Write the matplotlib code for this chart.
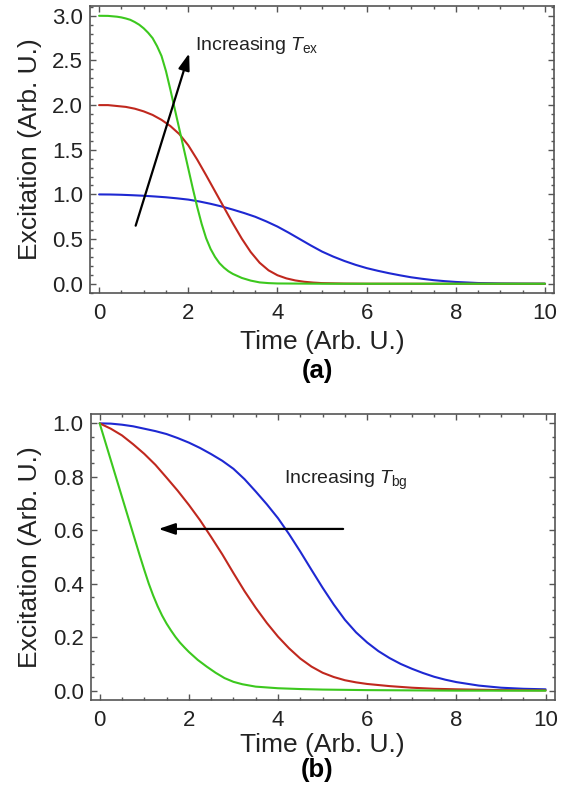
import matplotlib
matplotlib.use("Agg")
import matplotlib.pyplot as plt
from matplotlib.ticker import MultipleLocator


# panel (a): varying T_ex
TIME_A_GREEN = [0.0, 0.2, 0.4, 0.5, 0.6, 0.7, 0.8, 0.9, 1.0, 1.1, 1.2, 1.3, 1.4,
                1.5, 1.6, 1.7, 1.8, 1.9, 2.0, 2.1, 2.2, 2.3, 2.4, 2.5, 2.6, 2.7,
                2.8, 2.9, 3.0, 3.2, 3.4, 3.6, 3.8, 4.0, 5.0, 6.0, 8.0, 10.0]
EXC_A_GREEN = [3.000, 2.999, 2.99, 2.982, 2.97, 2.955, 2.93, 2.90, 2.86, 2.81,
               2.75, 2.66, 2.55, 2.38, 2.17, 1.95, 1.73, 1.51, 1.29, 1.07, 0.86,
               0.67, 0.51, 0.39, 0.30, 0.23, 0.18, 0.14, 0.11, 0.065, 0.035,
               0.015, 0.007, 0.003, 0.0, 0.0, 0.0, 0.0]

TIME_A_RED = [0.0, 0.2, 0.4, 0.6, 0.8, 1.0, 1.2, 1.4, 1.6, 1.8, 2.0, 2.2, 2.4,
              2.6, 2.8, 3.0, 3.2, 3.4, 3.6, 3.8, 4.0, 4.2, 4.4, 4.6, 4.8, 5.0,
              5.5, 6.0, 7.0, 8.0, 9.0, 10.0]
EXC_A_RED = [2.00, 2.00, 1.99, 1.98, 1.96, 1.93, 1.89, 1.835, 1.765, 1.675,
             1.55, 1.39, 1.215, 1.035, 0.855, 0.675, 0.505, 0.355, 0.235, 0.15,
             0.095, 0.06, 0.037, 0.022, 0.013, 0.007, 0.002, 0.0005, 0.0, 0.0,
             0.0, 0.0]

TIME_A_BLUE = [0.0, 0.25, 0.5, 0.75, 1.0, 1.25, 1.5, 1.75, 2.0, 2.25, 2.5, 2.75,
               3.0, 3.25, 3.5, 3.75, 4.0, 4.25, 4.5, 4.75, 5.0, 5.25, 5.5, 5.75,
               6.0, 6.25, 6.5, 6.75, 7.0, 7.25, 7.5, 7.75, 8.0, 8.5, 9.0, 9.5,
               10.0]
EXC_A_BLUE = [1.000, 0.999, 0.996, 0.991, 0.985, 0.977, 0.968, 0.956, 0.942,
              0.921, 0.895, 0.865, 0.830, 0.792, 0.750, 0.698, 0.640, 0.572,
              0.500, 0.428, 0.360, 0.304, 0.255, 0.212, 0.175, 0.145, 0.118,
              0.094, 0.072, 0.055, 0.040, 0.029, 0.020, 0.008, 0.003, 0.001,
              0.0]

# panel (b): varying T_bg
TIME_B_GREEN = [0.0, 0.2, 0.4, 0.6, 0.8, 0.9, 1.0, 1.1, 1.2, 1.3, 1.4, 1.5, 1.6,
                1.7, 1.8, 1.9, 2.0, 2.2, 2.4, 2.6, 2.8, 3.0, 3.2, 3.5, 4.0, 4.5,
                5.0, 6.0, 7.0, 8.0, 10.0]
EXC_B_GREEN = [1.00, 0.89, 0.78, 0.67, 0.56, 0.505, 0.452, 0.401, 0.356, 0.316,
               0.281, 0.251, 0.225, 0.201, 0.180, 0.162, 0.145, 0.115, 0.090,
               0.067, 0.047, 0.033, 0.024, 0.015, 0.009, 0.006, 0.004, 0.002,
               0.001, 0.0, 0.0]

TIME_B_RED = [0.0, 0.25, 0.5, 0.75, 1.0, 1.25, 1.5, 1.75, 2.0, 2.25, 2.5, 2.75,
              3.0, 3.25, 3.5, 3.75, 4.0, 4.25, 4.5, 4.75, 5.0, 5.25, 5.5, 5.75,
              6.0, 6.5, 7.0, 7.5, 8.0, 9.0, 10.0]
EXC_B_RED = [1.000, 0.980, 0.955, 0.922, 0.886, 0.845, 0.797, 0.748, 0.695,
             0.638, 0.575, 0.510, 0.440, 0.372, 0.310, 0.253, 0.202, 0.158,
             0.120, 0.090, 0.067, 0.051, 0.039, 0.031, 0.025, 0.017, 0.011,
             0.007, 0.005, 0.002, 0.001]

TIME_B_BLUE = [0.0, 0.25, 0.5, 0.75, 1.0, 1.25, 1.5, 1.75, 2.0, 2.25, 2.5, 2.75,
               3.0, 3.25, 3.5, 3.75, 4.0, 4.25, 4.5, 4.75, 5.0, 5.25, 5.5, 5.75,
               6.0, 6.25, 6.5, 6.75, 7.0, 7.25, 7.5, 7.75, 8.0, 8.5, 9.0, 9.5,
               10.0]
EXC_B_BLUE = [1.000, 0.999, 0.995, 0.989, 0.980, 0.971, 0.960, 0.945, 0.928,
              0.908, 0.885, 0.860, 0.830, 0.791, 0.745, 0.697, 0.645, 0.585,
              0.520, 0.452, 0.385, 0.322, 0.265, 0.218, 0.180, 0.148, 0.122,
              0.100, 0.082, 0.066, 0.052, 0.041, 0.032, 0.019, 0.011, 0.007,
              0.005]

GREEN = "#3cc81e"
RED = "#c0281e"
BLUE = "#1e28d2"
FRAME = "#555555"


def style_axes(ax, ylim, y_major, y_minor):
    ax.set_xlim(-0.204, 10.204)
    ax.set_ylim(*ylim)

    ax.xaxis.set_major_locator(MultipleLocator(2))
    ax.xaxis.set_minor_locator(MultipleLocator(0.5))
    ax.yaxis.set_major_locator(MultipleLocator(y_major))
    ax.yaxis.set_minor_locator(MultipleLocator(y_minor))

    ax.tick_params(which="both", direction="in", top=True, right=True,
                   color=FRAME, width=1.0, labelsize=16, labelcolor="#222222")
    ax.tick_params(which="major", length=4)
    ax.tick_params(which="minor", length=2)
    ax.tick_params(axis="x", pad=7)
    ax.tick_params(axis="y", pad=5)

    for spine in ax.spines.values():
        spine.set_color(FRAME)
        spine.set_linewidth(1.2)

    ax.set_xlabel("Time (Arb. U.)", fontsize=19, color="#222222")
    ax.set_ylabel("Excitation (Arb. U.)", fontsize=19, color="#222222")
    ax.yaxis.label.set_va("center")
    ax.xaxis.label.set_va("center")
    ax.yaxis.set_label_coords(-0.13, 0.5)


def main():
    plt.rcParams["font.family"] = ["Liberation Sans", "DejaVu Sans"]
    plt.rcParams["mathtext.fontset"] = "custom"
    plt.rcParams["mathtext.rm"] = "Liberation Sans"
    plt.rcParams["mathtext.it"] = "Liberation Sans:italic"

    fig = plt.figure(figsize=(5.66, 7.98), dpi=100)

    ax_a = fig.add_axes([0.159, 0.6328, 0.820, 0.3596])
    ax_b = fig.add_axes([0.160, 0.1228, 0.820, 0.3584])

    line_kw = dict(linewidth=1.5, solid_capstyle="round", solid_joinstyle="round")
    arrow_kw = dict(arrowstyle="-|>,head_length=0.5,head_width=0.17",
                    color="black", lw=1.6, mutation_scale=20,
                    shrinkA=0, shrinkB=0)

    # (a)
    ax_a.plot(TIME_A_BLUE, EXC_A_BLUE, color=BLUE, **line_kw)
    ax_a.plot(TIME_A_RED, EXC_A_RED, color=RED, **line_kw)
    ax_a.plot(TIME_A_GREEN, EXC_A_GREEN, color=GREEN, **line_kw)
    ax_a.annotate("", xy=(2.02, 2.58), xytext=(0.82, 0.65), arrowprops=arrow_kw)
    ax_a.text(2.15, 2.67, r"Increasing $T_{\mathrm{ex}}$", fontsize=14,
              color="#222222", ha="left", va="center")
    style_axes(ax_a, (-0.104, 3.109), 0.5, 0.1)
    ax_a.xaxis.set_label_coords(0.5, -0.17)

    # (b)
    ax_b.plot(TIME_B_BLUE, EXC_B_BLUE, color=BLUE, **line_kw)
    ax_b.plot(TIME_B_RED, EXC_B_RED, color=RED, **line_kw)
    ax_b.plot(TIME_B_GREEN, EXC_B_GREEN, color=GREEN, **line_kw)
    ax_b.annotate("", xy=(1.32, 0.605), xytext=(5.46, 0.605), arrowprops=arrow_kw)
    ax_b.text(4.13, 0.785, r"Increasing $T_{\mathrm{bg}}$", fontsize=14,
              color="#222222", ha="left", va="center")
    style_axes(ax_b, (-0.035, 1.035), 0.2, 0.05)
    ax_b.xaxis.set_label_coords(0.5, -0.157)

    fig.text(0.56, 1 - 371 / 798, "(a)", fontsize=18.5, fontweight="bold",
             ha="center", va="center")
    fig.text(0.56, 1 - 770 / 798, "(b)", fontsize=18.5, fontweight="bold",
             ha="center", va="center")

    fig.savefig("out.png", dpi=100)
    plt.close(fig)


if __name__ == "__main__":
    main()
